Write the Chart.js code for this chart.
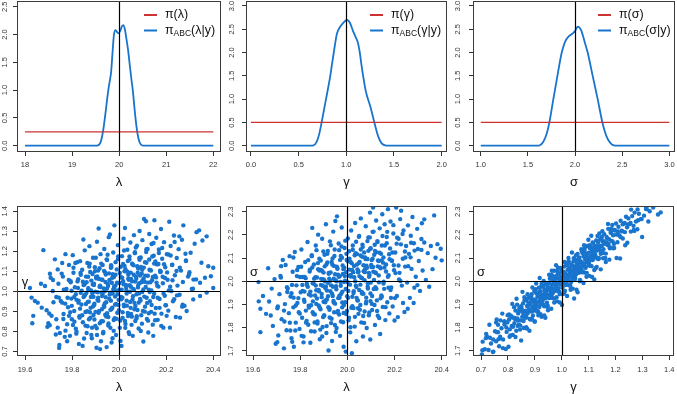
<!DOCTYPE html>
<html>
<head>
<meta charset="utf-8">
<script src="https://cdn.jsdelivr.net/npm/chart.js@4.4.1/dist/chart.umd.min.js"></script>
<style>
  html, body { margin: 0; padding: 0; background: #fff; overflow: hidden; width: 677px; height: 394px; }
  canvas { position: absolute; }
</style>
</head>
<body>
<canvas id="p1"></canvas><canvas id="p2"></canvas><canvas id="p3"></canvas>
<canvas id="p4"></canvas><canvas id="p5"></canvas><canvas id="p6"></canvas>
<script>
'use strict';

const blue = '#1874CD';
const red = '#CD3333';
const FONT = '"Liberation Sans", Arial, sans-serif';

// ABC posterior densities
const lambdaGrid = [18, 19.5, 19.55, 19.6, 19.63, 19.66, 19.7, 19.74, 19.77, 19.8, 19.83, 19.86, 19.89, 19.925, 19.96, 19.99, 20.03, 20.06, 20.09, 20.12, 20.15, 20.19, 20.23, 20.26, 20.29, 20.33, 20.36, 20.39, 20.43, 20.47, 20.52, 22];
const lambdaDensity = [0, 0, 0.005, 0.05, 0.14, 0.27, 0.52, 0.8, 1.0, 1.16, 1.33, 1.68, 2.0, 2.08, 2.04, 2.02, 2.08, 2.15, 2.17, 2.1, 1.95, 1.72, 1.42, 1.2, 1.0, 0.64, 0.4, 0.22, 0.07, 0.015, 0, 0];
const gammaGrid = [0, 0.63, 0.655, 0.69, 0.717, 0.741, 0.765, 0.787, 0.81, 0.832, 0.85, 0.867, 0.885, 0.902, 0.934, 0.97, 1.007, 1.04, 1.073, 1.1, 1.119, 1.143, 1.16, 1.178, 1.195, 1.213, 1.252, 1.294, 1.336, 1.371, 1.41, 1.44, 2];
const gammaDensity = [0, 0, 0.005, 0.086, 0.26, 0.5, 0.76, 1.0, 1.25, 1.5, 1.75, 1.98, 2.22, 2.41, 2.55, 2.64, 2.7, 2.63, 2.45, 2.32, 2.23, 1.98, 1.72, 1.48, 1.27, 1.1, 0.84, 0.5, 0.19, 0.05, 0.005, 0, 0];
const sigmaGrid = [1, 1.6, 1.622, 1.664, 1.7, 1.728, 1.77, 1.813, 1.859, 1.894, 1.929, 1.975, 2.0, 2.028, 2.064, 2.106, 2.134, 2.187, 2.24, 2.29, 2.336, 2.378, 2.413, 2.44, 3];
const sigmaDensity = [0, 0, 0.005, 0.086, 0.26, 0.5, 1.0, 1.5, 2.0, 2.23, 2.34, 2.41, 2.46, 2.555, 2.48, 2.2, 2.0, 1.5, 1.0, 0.5, 0.19, 0.05, 0.005, 0, 0];

// uniform priors: [from, to, height]
const lambdaPrior = [18, 22, 0.25];
const gammaPrior = [0, 2, 0.5];
const sigmaPrior = [1, 3, 0.5];

// true parameter values
const trueLambda = 20, trueGamma = 1, trueSigma = 2;

// tick labels
const lambdaTicksTop = ['18', '19', '20', '21', '22'];
const gammaTicksTop = ['0.0', '0.5', '1.0', '1.5', '2.0'];
const sigmaTicksTop = ['1.0', '1.5', '2.0', '2.5', '3.0'];
const densTicks25 = ['0.0', '0.5', '1.0', '1.5', '2.0', '2.5'];
const densTicks30 = ['0.0', '0.5', '1.0', '1.5', '2.0', '2.5', '3.0'];
const lambdaTicksBot = ['19.6', '19.8', '20.0', '20.2', '20.4'];
const gammaTicksBot = ['0.7', '0.8', '0.9', '1.0', '1.1', '1.2', '1.3', '1.4'];
const sigmaTicksBot = ['1.7', '1.8', '1.9', '2.0', '2.1', '2.2', '2.3'];

// legend texts: [main, subscript, rest]
const lambdaLegend = [['π', '', '(λ)'], ['π', 'ABC', '(λ|y)']];
const gammaLegend = [['π', '', '(γ)'], ['π', 'ABC', '(γ|y)']];
const sigmaLegend = [['π', '', '(σ)'], ['π', 'ABC', '(σ|y)']];

// accepted draws (lambda, gamma)
const lgPairs = [
  [19.621,1.017],[19.628,0.969],[19.635,0.878],[19.631,0.841],[19.642,0.952],
  [19.654,0.944],[19.671,0.919],[19.668,1.038],[19.678,1.206],[19.685,1.027],[19.692,0.906],[19.699,0.841],[19.695,0.823],
  [19.706,1.088],[19.709,1.068],[19.713,0.878],[19.727,1.160],[19.739,1.110],[19.742,1.038],[19.746,0.733],[19.739,0.819],[19.721,0.946],[19.733,0.861],[19.748,0.792],
  [19.752,0.952],[19.758,1.142],[19.761,1.074],[19.764,0.887],[19.769,0.773],[19.772,1.186],[19.776,1.012],[19.779,0.836],[19.783,0.921],[19.787,1.132],[19.791,0.778],[19.794,1.046],[19.797,0.964],[19.799,0.861],
  [19.803,1.181],[19.806,1.093],[19.809,0.902],[19.812,1.021],[19.816,0.814],[19.819,0.958],[19.822,1.146],[19.826,1.061],[19.829,0.738],[19.831,0.876],[19.834,1.151],[19.837,0.993],[19.840,0.935],[19.843,1.108],[19.846,0.846],[19.848,1.259],[19.849,1.032],
  [19.852,0.981],[19.854,1.205],[19.857,0.897],[19.859,1.074],[19.862,0.792],[19.865,1.142],[19.867,0.948],[19.869,1.016],[19.872,0.861],[19.874,1.226],[19.877,1.097],[19.879,0.918],[19.882,1.054],[19.884,0.766],[19.886,0.991],[19.889,1.168],[19.891,0.882],[19.893,1.039],[19.895,0.939],[19.897,1.121],[19.899,0.828],
  [19.902,1.072],[19.904,0.719],[19.906,1.248],[19.908,0.958],[19.911,1.104],[19.913,1.314],[19.915,0.903],[19.917,1.023],[19.919,0.712],[19.921,1.186],[19.924,0.851],[19.926,1.059],[19.928,0.977],[19.930,1.132],[19.932,0.791],[19.935,0.928],[19.937,1.212],[19.939,1.001],[19.941,0.884],[19.943,1.084],[19.945,0.946],[19.947,0.722],[19.949,1.157],
  [19.952,1.037],[19.954,0.872],[19.956,1.271],[19.958,0.963],[19.961,1.284],[19.963,0.818],[19.965,1.118],[19.967,0.911],[19.968,0.745],[19.971,1.068],[19.973,0.989],[19.975,1.194],[19.977,0.857],[19.979,1.026],[19.980,1.330],[19.983,0.934],[19.985,1.146],[19.987,0.782],[19.989,1.004],[19.992,0.893],[19.995,1.231],[19.998,0.958],
  [20.003,1.092],[20.006,0.753],[20.008,0.972],[20.010,0.728],[20.012,1.176],[20.015,0.868],[20.017,1.051],[20.019,1.263],[20.021,0.926],[20.023,1.127],[20.025,1.317],[20.027,0.837],[20.030,1.018],[20.032,0.954],[20.035,1.208],[20.037,0.892],[20.039,1.083],[20.041,0.796],[20.044,1.159],[20.046,0.998],[20.048,1.244],[20.049,0.918],
  [20.051,1.062],[20.054,0.874],[20.056,1.137],[20.058,0.778],[20.060,1.012],[20.063,1.281],[20.065,0.943],[20.067,1.191],[20.069,0.852],[20.072,1.073],[20.074,0.986],[20.076,1.228],[20.078,0.907],[20.081,1.114],[20.083,0.815],[20.085,1.041],[20.087,1.302],[20.089,0.962],[20.092,1.169],[20.094,0.881],[20.096,1.089],[20.098,0.997],[20.099,1.256],
  [20.103,0.750],[20.106,1.362],[20.108,1.048],[20.110,0.924],[20.114,1.350],[20.116,1.143],[20.118,0.862],[20.121,1.212],[20.124,0.795],[20.126,1.009],[20.128,1.287],[20.131,0.951],[20.133,1.106],[20.136,0.898],[20.138,1.237],[20.140,1.056],[20.143,0.834],[20.145,0.778],[20.147,1.178],[20.149,0.988],[20.150,1.355],
  [20.153,1.078],[20.156,0.917],[20.158,1.268],[20.161,1.135],[20.164,0.858],[20.167,1.024],[20.169,1.209],[20.172,0.962],[20.175,1.097],[20.178,1.312],[20.180,0.889],[20.183,1.163],[20.186,1.041],[20.188,0.819],[20.191,1.246],[20.194,0.978],[20.196,1.121],[20.199,0.931],
  [20.203,1.186],[20.206,1.058],[20.209,0.904],[20.213,1.348],[20.216,0.819],[20.219,1.227],[20.222,1.002],[20.226,1.133],[20.229,0.951],[20.233,1.279],[20.237,1.081],[20.241,0.872],[20.245,1.167],[20.248,1.029],
  [20.253,1.211],[20.257,0.983],[20.259,0.869],[20.263,1.104],[20.267,1.258],[20.271,1.047],[20.273,1.330],[20.278,0.928],[20.284,1.152],[20.287,0.902],[20.293,1.074],
  [20.304,1.193],[20.309,1.012],[20.315,0.960],[20.321,1.238],[20.327,1.060],[20.329,1.296],[20.340,1.305],[20.344,0.977],[20.344,1.043],[20.350,1.143],
  [20.354,1.254],[20.365,1.068],[20.372,1.275],[20.372,0.994],[20.379,1.126],[20.390,1.076],[20.400,1.017],[20.400,1.118],
  [19.703,0.890],[19.718,1.002],[19.731,0.785],[19.744,0.969],[19.756,1.089],[19.763,0.862],[19.771,0.939],[19.779,0.751],[19.786,1.057],[19.792,0.896],
  [19.798,1.003],[19.804,0.832],[19.809,0.972],[19.814,1.142],[19.818,0.789],[19.823,1.050],[19.827,0.944],[19.832,0.869],[19.836,1.092],[19.841,1.004],
  [19.845,0.728],[19.849,0.972],[19.853,1.035],[19.857,0.829],[19.861,0.992],[19.864,0.901],[19.868,1.073],[19.871,0.949],[19.875,1.139],[19.878,0.869],
  [19.881,1.005],[19.885,0.819],[19.888,1.035],[19.891,0.973],[19.894,0.932],[19.897,1.101],[19.900,0.898],[19.903,1.065],[19.906,0.782],[19.909,0.996],
  [19.912,0.953],[19.915,1.062],[19.918,0.841],[19.921,1.022],[19.924,1.139],[19.927,0.911],[19.930,0.987],[19.933,0.797],[19.936,1.102],[19.939,0.940],
  [19.942,1.047],[19.945,0.875],[19.948,1.013],[19.951,1.183],[19.954,0.830],[19.957,1.090],[19.960,0.984],[19.963,0.908],[19.966,1.131],[19.969,1.043],
  [19.972,0.766],[19.975,1.010],[19.978,1.072],[19.981,0.866],[19.984,1.029],[19.987,0.938],[19.990,1.110],[19.993,0.986],[19.996,1.175],[19.999,0.906],
  [20.002,1.042],[20.005,0.855],[20.008,1.071],[20.011,1.009],[20.014,0.968],[20.017,1.137],[20.020,0.934],[20.023,1.101],[20.026,0.818],[20.029,1.032],
  [20.032,0.989],[20.035,1.098],[20.038,0.877],[20.041,1.058],[20.044,1.175],[20.047,0.947],[20.050,1.023],[20.053,0.833],[20.056,1.138],[20.059,0.976],
  [20.062,1.083],[20.065,0.911],[20.068,1.049],[20.071,1.219],[20.074,0.866],[20.077,1.126],[20.080,1.020],[20.083,0.944],[20.086,1.167],[20.089,1.079],
  [20.092,0.802],[20.095,1.046],[20.098,1.108],[20.101,0.902],[20.104,1.065],[20.107,0.974],[20.110,1.146],[20.113,1.022],[20.116,1.211],[20.119,0.942],
  [20.122,1.078],[20.126,0.891],[20.129,1.108],[20.133,1.046],[20.137,1.005],[20.141,1.174],[20.145,0.972],[20.149,1.139],[20.153,0.856],[20.157,1.070],
  [20.162,1.028],[20.167,1.137],[20.172,0.918],[20.177,1.099],[20.183,1.217],[20.189,0.990],[20.195,1.067],[20.202,0.878],[20.209,1.184],[20.217,1.023],
  [20.225,1.132],[20.234,0.961],[20.244,1.102],[20.256,1.275],[20.268,0.924],[20.282,1.188],[20.297,1.085],[20.314,1.013],
  [19.705,0.831],[19.719,1.057],[19.733,0.972],[19.745,0.718],[19.758,0.944],[19.765,1.009],[19.772,0.804],[19.781,0.968],[19.787,0.878],[19.794,1.051],
  [19.799,0.928],[19.806,1.118],[19.810,0.849],[19.816,0.986],[19.819,0.799],[19.825,1.017],[19.828,0.954],[19.834,0.914],[19.837,1.083],[19.843,0.881],
  [19.846,1.048],[19.851,0.765],[19.854,0.979],[19.859,0.937],[19.862,1.046],[19.866,0.826],[19.869,1.007],[19.873,1.124],[19.876,0.896],[19.880,0.972],
  [19.882,0.782],[19.887,1.087],[19.889,0.925],[19.893,1.032],[19.895,0.860],[19.899,0.999],[19.901,1.168],[19.905,0.816],[19.907,1.075],[19.911,0.969],
  [19.913,0.893],[19.917,1.116],[19.919,1.028],[19.923,0.751],[19.925,0.995],[19.929,1.058],[19.931,0.851],[19.935,1.015],[19.937,0.923],[19.941,1.095],
  [19.943,0.971],[19.947,1.160],[19.949,0.891],[19.953,1.027],[19.955,0.840],[19.959,1.057],[19.961,0.994],[19.965,0.954],[19.967,1.122],[19.971,0.919],
  [19.973,1.086],[19.977,0.803],[19.979,1.017],[19.983,0.974],[19.985,1.083],[19.989,0.863],[19.991,1.043],[19.995,1.161],[19.997,0.932],[20.001,1.008],
  [20.003,0.818],[20.007,1.123],[20.009,0.961],[20.013,1.068],[20.015,0.896],[20.019,1.035],[20.021,1.204],[20.025,0.852],[20.027,1.111],[20.031,1.005],
  [20.033,0.929],[20.037,1.152],[20.039,1.064],[20.043,0.787],[20.045,1.031],[20.049,1.094],[20.051,0.887],[20.055,1.051],[20.057,0.959],[20.061,1.131],
  [20.063,1.007],[20.067,1.196],[20.069,0.927],[20.073,1.063],[20.075,0.876],[20.079,1.093],[20.081,1.030],[20.085,0.990],[20.087,1.158],[20.091,0.955],
  [20.093,1.122],[20.097,0.839],[20.099,1.053],[20.103,1.010],[20.105,1.119],[20.109,0.899],[20.111,1.079],[20.115,1.197],[20.117,0.968],[20.121,1.044],
  [20.123,0.854],[20.128,1.159],[20.130,0.997],[20.135,1.105],[20.138,0.932],[20.143,1.072],[20.146,1.242],[20.151,0.889],[20.154,1.149],[20.159,1.044],
  [20.164,0.968],[20.169,1.192],[20.174,1.104],[20.179,0.828],[20.185,1.073],[20.191,1.136],[20.197,0.931],[20.204,1.095],[20.211,1.005],[20.219,1.179],
  [20.227,1.056],[20.236,1.247],[20.246,0.980],[20.258,1.118],[20.270,0.934],[20.284,1.154],[20.299,1.096],[20.316,1.059]
];

// accepted draws (lambda, sigma)
const lsPairs = [
  [19.623,1.996],[19.624,1.913],[19.631,1.881],[19.631,1.780],[19.642,1.936],
  [19.655,1.859],[19.664,2.056],[19.668,1.912],[19.675,1.852],[19.679,1.968],[19.684,1.807],[19.691,2.009],[19.696,1.730],
  [19.703,1.883],[19.707,1.766],[19.712,1.944],[19.716,2.023],[19.721,1.836],[19.726,2.092],[19.731,1.710],[19.735,1.901],[19.738,2.070],[19.742,1.788],[19.747,1.968],
  [19.752,1.862],[19.755,2.108],[19.759,1.934],[19.763,1.754],[19.766,1.738],[19.768,2.041],[19.771,1.887],[19.773,1.717],[19.777,2.126],[19.781,1.821],[19.784,1.982],[19.788,1.906],[19.792,2.061],[19.797,1.794],
  [19.802,1.952],[19.805,2.137],[19.808,1.842],[19.811,2.018],[19.814,1.761],[19.818,1.911],[19.821,2.083],[19.824,1.873],[19.828,1.989],[19.831,2.169],[19.834,1.812],[19.837,1.943],[19.840,2.042],[19.843,1.734],[19.846,1.896],[19.849,2.112],[19.851,2.230],
  [19.853,1.991],[19.856,1.858],[19.858,2.072],[19.861,1.783],[19.863,1.938],[19.866,2.154],[19.868,1.902],[19.871,2.016],[19.873,1.826],[19.876,2.201],[19.878,1.962],[19.881,2.097],[19.883,1.749],[19.886,1.879],[19.888,2.049],[19.891,1.931],[19.893,2.183],[19.895,1.802],[19.897,2.006],[19.899,1.911],[19.898,2.128],
  [19.902,1.852],[19.904,2.064],[19.906,1.971],[19.909,2.246],[19.911,1.776],[19.913,1.921],[19.915,2.118],[19.918,1.993],[19.920,1.701],[19.921,2.036],[19.924,1.883],[19.926,2.172],[19.928,1.957],[19.931,1.819],[19.933,2.083],[19.935,1.742],[19.938,1.936],[19.940,2.214],[19.942,2.011],[19.944,1.866],[19.946,2.137],[19.948,1.903],[19.949,2.260],
  [19.952,1.978],[19.954,1.798],[19.956,2.280],[19.958,2.054],[19.961,1.927],[19.963,2.163],[19.965,1.856],[19.967,2.021],[19.969,1.764],[19.972,2.109],[19.974,1.946],[19.976,2.232],[19.978,1.887],[19.980,2.068],[19.982,1.823],[19.984,1.717],[19.986,1.996],[19.988,2.143],[19.991,1.909],[19.993,1.696],[19.995,2.039],[19.998,1.871],
  [20.002,2.184],[20.004,1.958],[20.007,1.842],[20.009,2.097],[20.012,1.779],[20.014,2.027],[20.016,2.219],[20.019,1.689],[20.021,1.933],[20.023,2.136],[20.026,1.884],[20.028,2.066],[20.031,1.804],[20.033,2.251],[20.036,1.981],[20.038,1.741],[20.041,2.117],[20.043,1.917],[20.045,2.039],[20.047,1.859],[20.049,2.192],[20.050,1.962],
  [20.052,2.083],[20.055,1.897],[20.057,2.271],[20.059,1.822],[20.062,2.013],[20.064,2.158],[20.066,1.761],[20.068,1.946],[20.071,2.124],[20.073,1.869],[20.075,2.052],[20.078,2.237],[20.080,1.929],[20.082,1.798],[20.085,2.096],[20.087,1.991],[20.089,2.189],[20.091,1.853],[20.094,2.027],[20.096,2.296],[20.098,1.914],[20.099,2.142],[20.097,1.748],
  [20.102,2.061],[20.105,1.876],[20.107,2.213],[20.109,2.318],[20.112,1.966],[20.114,2.114],[20.117,1.811],[20.119,2.038],[20.122,2.262],[20.125,1.917],[20.127,2.173],[20.129,1.851],[20.132,2.087],[20.134,1.995],[20.137,2.228],[20.139,1.772],[20.141,2.056],[20.144,1.938],[20.146,2.154],[20.148,2.289],[20.150,1.889],
  [20.153,2.102],[20.156,1.967],[20.158,2.246],[20.161,1.832],[20.164,2.072],[20.167,2.191],[20.169,1.909],[20.172,2.311],[20.175,2.026],[20.178,1.861],[20.181,2.141],[20.183,2.258],[20.186,1.973],[20.189,2.088],[20.192,1.891],[20.195,2.206],[20.198,2.047],[20.200,1.830],
  [20.203,2.124],[20.207,2.318],[20.210,1.936],[20.214,1.845],[20.217,2.183],[20.221,2.036],[20.224,2.268],[20.228,2.304],[20.231,1.981],[20.235,2.097],[20.238,2.219],[20.242,1.867],[20.245,2.063],[20.249,2.152],
  [20.253,1.994],[20.257,2.241],[20.261,2.118],[20.265,1.928],[20.269,2.196],[20.272,2.053],[20.276,2.277],[20.281,1.906],[20.285,2.132],[20.290,2.019],[20.296,2.226],
  [20.303,2.087],[20.308,1.958],[20.314,2.182],[20.319,2.046],[20.326,2.267],[20.326,2.167],[20.333,2.005],[20.341,2.121],[20.347,1.976],
  [20.354,2.152],[20.361,2.052],[20.368,2.284],[20.374,2.101],[20.382,2.160],[20.396,2.140],[20.400,2.090],
  [19.703,1.737],[19.718,2.016],[19.731,1.873],[19.744,1.974],[19.756,1.821],[19.763,1.948],[19.771,2.102],[19.779,1.787],[19.786,2.022],[19.792,1.927],
  [19.798,1.860],[19.804,2.062],[19.809,1.984],[19.814,1.736],[19.818,1.955],[19.823,2.013],[19.827,1.828],[19.832,1.976],[19.836,1.894],[19.841,2.050],
  [19.845,1.938],[19.849,2.108],[19.853,1.866],[19.857,1.990],[19.861,1.822],[19.864,2.017],[19.868,1.961],[19.871,1.925],[19.875,2.078],[19.878,1.895],
  [19.881,2.046],[19.885,1.791],[19.888,1.984],[19.891,1.945],[19.894,2.043],[19.897,1.845],[19.900,2.008],[19.903,2.114],[19.906,1.909],[19.909,1.977],
  [19.912,1.806],[19.915,2.081],[19.918,1.935],[19.921,2.032],[19.924,1.877],[19.927,2.002],[19.930,2.155],[19.933,1.838],[19.936,2.072],[19.939,1.976],
  [19.942,1.908],[19.945,2.109],[19.948,2.030],[19.951,1.781],[19.954,2.000],[19.957,2.057],[19.960,1.872],[19.963,2.019],[19.966,1.937],[19.969,2.092],
  [19.972,1.980],[19.975,2.150],[19.978,1.908],[19.981,2.031],[19.984,1.863],[19.987,2.058],[19.990,2.002],[19.993,1.966],[19.996,2.118],[19.999,1.935],
  [20.002,2.086],[20.005,1.831],[20.008,2.024],[20.011,1.985],[20.014,2.083],[20.017,1.885],[20.020,2.048],[20.023,2.154],[20.026,1.949],[20.029,2.017],
  [20.032,1.846],[20.035,2.121],[20.038,1.975],[20.041,2.072],[20.044,1.917],[20.047,2.042],[20.050,2.195],[20.053,1.877],[20.056,2.111],[20.059,2.015],
  [20.062,1.947],[20.065,2.148],[20.068,2.069],[20.071,1.820],[20.074,2.039],[20.077,2.096],[20.080,1.911],[20.083,2.058],[20.086,1.976],[20.089,2.131],
  [20.092,2.019],[20.095,2.189],[20.098,1.947],[20.101,2.070],[20.104,1.902],[20.107,2.097],[20.110,2.041],[20.113,2.005],[20.116,2.157],[20.119,1.974],
  [20.122,2.125],[20.126,1.871],[20.129,2.064],[20.133,2.025],[20.137,2.123],[20.141,1.926],[20.145,2.089],[20.149,2.195],[20.153,1.990],[20.157,2.059],
  [20.162,1.888],[20.167,2.164],[20.172,2.019],[20.177,2.116],[20.183,1.962],[20.189,2.088],[20.195,2.242],[20.202,1.927],[20.209,2.162],[20.217,2.068],
  [20.225,2.001],[20.234,2.204],[20.244,2.128],[20.256,1.881],[20.268,2.103],[20.282,2.164],[20.297,1.983],[20.314,2.135],
  [19.705,1.891],[19.719,2.065],[19.733,1.826],[19.745,1.953],[19.758,1.787],[19.765,1.984],[19.772,1.929],[19.781,1.895],[19.787,2.048],[19.794,1.866],
  [19.799,2.018],[19.806,1.764],[19.810,1.958],[19.816,1.920],[19.819,2.018],[19.825,1.821],[19.828,1.984],[19.834,2.091],[19.837,1.886],[19.843,1.955],
  [19.846,1.784],[19.851,2.059],[19.854,1.913],[19.859,2.011],[19.862,1.856],[19.866,1.981],[19.869,2.134],[19.873,1.817],[19.876,2.052],[19.880,1.956],
  [19.882,1.888],[19.887,2.089],[19.889,2.010],[19.893,1.761],[19.895,1.980],[19.899,2.037],[19.901,1.852],[19.905,1.999],[19.907,1.917],[19.911,2.072],
  [19.913,1.960],[19.917,2.130],[19.919,1.888],[19.923,2.011],[19.925,1.843],[19.929,2.038],[19.931,1.982],[19.935,1.946],[19.937,2.098],[19.941,1.915],
  [19.943,2.066],[19.947,1.811],[19.949,2.004],[19.953,1.965],[19.955,2.063],[19.959,1.865],[19.961,2.028],[19.965,2.134],[19.967,1.929],[19.971,1.997],
  [19.973,1.826],[19.977,2.101],[19.979,1.955],[19.983,2.052],[19.985,1.897],[19.989,2.022],[19.991,2.175],[19.995,1.858],[19.997,2.092],[20.001,1.996],
  [20.003,1.928],[20.007,2.129],[20.009,2.050],[20.013,1.801],[20.015,2.020],[20.019,2.077],[20.021,1.892],[20.025,2.039],[20.027,1.957],[20.031,2.112],
  [20.033,2.000],[20.037,2.170],[20.039,1.928],[20.043,2.051],[20.045,1.883],[20.049,2.078],[20.051,2.022],[20.055,1.985],[20.057,2.137],[20.061,1.954],
  [20.063,2.105],[20.067,1.850],[20.069,2.043],[20.073,2.004],[20.075,2.102],[20.079,1.904],[20.081,2.067],[20.085,2.173],[20.087,1.968],[20.091,2.036],
  [20.093,1.865],[20.097,2.140],[20.099,1.994],[20.103,2.091],[20.105,1.936],[20.109,2.061],[20.111,2.214],[20.115,1.897],[20.117,2.131],[20.121,2.035],
  [20.123,1.967],[20.128,2.169],[20.130,2.090],[20.135,1.841],[20.138,2.060],[20.143,2.118],[20.146,1.933],[20.151,2.080],[20.154,1.998],[20.159,2.154],
  [20.164,2.042],[20.169,2.213],[20.174,1.972],[20.179,2.095],[20.185,1.928],[20.191,2.124],[20.197,2.069],[20.204,2.035],[20.211,2.188],[20.219,2.007],
  [20.227,2.159],[20.236,1.906],[20.246,2.102],[20.258,2.065],[20.270,2.166],[20.284,1.972],[20.299,2.139],[20.316,2.250]
];

// accepted draws (gamma, sigma)
const gsPairs = [
  [0.706,1.739],[0.714,1.706],[0.722,1.761],[0.728,1.703],[0.737,1.731],[0.746,1.696],
  [0.752,1.784],[0.756,1.741],[0.759,1.780],[0.763,1.812],[0.767,1.719],[0.771,1.760],[0.776,1.797],[0.782,1.748],[0.788,1.826],[0.795,1.781],
  [0.802,1.717],[0.804,1.834],[0.807,1.792],[0.811,1.851],[0.814,1.807],[0.818,1.768],[0.821,1.842],[0.824,1.819],[0.828,1.873],[0.831,1.786],[0.835,1.839],[0.838,1.861],[0.841,1.812],[0.844,1.885],[0.847,1.831],[0.849,1.744],
  [0.851,1.882],[0.853,1.846],[0.856,1.904],[0.858,1.828],[0.861,1.869],[0.863,1.917],[0.866,1.853],[0.868,1.801],[0.871,1.893],[0.873,1.861],[0.876,1.928],[0.878,1.874],[0.881,1.837],[0.883,1.902],[0.886,1.869],[0.888,1.944],[0.891,1.886],[0.893,1.852],[0.895,1.919],[0.897,1.893],[0.899,1.826],[0.899,1.961],
  [0.901,1.921],[0.903,1.884],[0.905,1.949],[0.907,1.902],[0.909,1.868],[0.911,1.935],[0.913,1.913],[0.915,1.972],[0.917,1.889],[0.919,1.928],[0.921,1.957],[0.923,1.901],[0.925,1.846],[0.927,1.941],[0.929,1.917],[0.931,1.981],[0.933,1.934],[0.935,1.892],[0.937,1.958],[0.939,1.926],[0.941,1.989],[0.943,1.943],[0.945,1.907],[0.946,1.966],[0.948,1.941],[0.949,1.874],
  [0.951,1.962],[0.953,1.927],[0.954,1.991],[0.956,2.012],[0.958,1.946],[0.960,1.973],[0.962,1.938],[0.963,2.027],[0.965,1.985],[0.967,1.951],[0.969,2.004],[0.971,1.969],[0.972,2.045],[0.974,1.996],[0.976,1.959],[0.978,2.021],[0.979,1.983],[0.981,1.931],[0.983,2.012],[0.985,1.992],[0.986,2.058],[0.988,1.969],[0.990,2.031],[0.992,1.998],[0.993,1.944],[0.995,2.017],[0.997,1.985],[0.999,2.043],
  [1.001,2.008],[1.003,1.972],[1.005,2.037],[1.006,1.991],[1.008,2.063],[1.010,2.019],[1.012,1.958],[1.013,2.034],[1.015,2.002],[1.017,2.071],[1.019,2.026],[1.020,1.987],[1.022,2.049],[1.024,2.014],[1.026,2.086],[1.028,2.032],[1.046,1.925],[1.031,2.058],[1.033,2.021],[1.035,1.996],[1.036,2.073],[1.038,2.041],[1.040,2.009],[1.042,2.066],[1.044,2.035],[1.046,2.098],[1.047,2.052],[1.049,2.016],
  [1.051,2.061],[1.053,2.029],[1.055,2.092],[1.057,2.047],[1.059,2.118],[1.061,2.071],[1.063,2.036],[1.065,2.103],[1.067,2.062],[1.069,2.002],[1.071,2.085],[1.073,2.053],[1.075,2.129],[1.077,2.078],[1.079,2.041],[1.081,2.107],[1.083,2.074],[1.085,2.141],[1.087,2.093],[1.089,2.058],[1.091,2.117],[1.093,2.083],[1.095,2.152],[1.097,2.101],[1.099,2.069],
  [1.101,2.123],[1.103,2.087],[1.106,2.147],[1.108,2.108],[1.110,2.196],[1.112,2.129],[1.115,2.091],[1.117,2.162],[1.119,2.118],[1.121,2.048],[1.124,2.143],[1.126,2.109],[1.128,2.176],[1.131,2.132],[1.133,2.097],[1.135,2.168],[1.138,2.141],[1.140,2.206],[1.142,2.153],[1.145,2.118],[1.147,2.187],[1.149,2.152],
  [1.152,2.171],[1.155,2.138],[1.158,2.203],[1.161,2.162],[1.164,2.119],[1.167,2.191],[1.170,2.156],[1.173,2.226],[1.176,2.181],[1.179,2.142],[1.182,2.209],[1.185,2.174],[1.188,2.243],[1.191,2.198],[1.194,2.161],[1.197,2.219],
  [1.203,2.201],[1.207,2.168],[1.211,2.235],[1.215,2.196],[1.219,2.261],[1.223,2.218],[1.227,2.184],[1.231,2.249],[1.235,2.212],[1.239,2.278],[1.243,2.233],[1.248,2.271],
  [1.253,2.247],[1.257,2.214],[1.262,2.281],[1.267,2.239],[1.271,2.296],[1.276,2.258],[1.281,2.224],[1.287,2.291],[1.294,2.268],
  [1.306,2.283],[1.314,2.311],[1.322,2.258],[1.327,2.302],[1.340,2.318],[1.358,2.288],[1.368,2.297],
  [0.703,1.684],[0.718,1.754],[0.731,1.812],[0.744,1.694],[0.756,1.822],[0.763,1.780],[0.771,1.753],[0.779,1.860],[0.786,1.826],[0.792,1.707],
  [0.798,1.822],[0.804,1.856],[0.809,1.766],[0.814,1.844],[0.818,1.807],[0.823,1.888],[0.827,1.836],[0.832,1.924],[0.836,1.807],[0.841,1.872],
  [0.845,1.791],[0.849,1.892],[0.853,1.868],[0.857,1.852],[0.861,1.931],[0.864,1.843],[0.868,1.921],[0.871,1.795],[0.875,1.895],[0.878,1.879],
  [0.881,1.930],[0.885,1.834],[0.888,1.918],[0.891,1.973],[0.894,1.872],[0.897,1.909],[0.900,1.826],[0.903,1.965],[0.906,1.895],[0.909,1.945],
  [0.912,1.870],[0.915,1.935],[0.918,2.014],[0.921,1.857],[0.924,1.976],[0.927,1.931],[0.930,1.900],[0.933,2.001],[0.936,1.964],[0.939,1.842],
  [0.942,1.955],[0.945,1.985],[0.948,1.894],[0.951,1.970],[0.954,1.932],[0.957,2.011],[0.960,1.958],[0.963,2.045],[0.966,1.927],[0.969,1.989],
  [0.972,1.908],[0.975,2.008],[0.978,1.983],[0.981,1.967],[0.984,2.044],[0.987,1.956],[0.990,2.033],[0.993,1.908],[0.996,2.006],[0.999,1.990],
  [1.002,2.041],[1.005,1.945],[1.008,2.028],[1.011,2.083],[1.014,1.983],[1.017,2.020],[1.020,1.936],[1.023,2.075],[1.026,2.005],[1.029,2.056],
  [1.032,1.980],[1.035,2.045],[1.038,2.124],[1.041,1.968],[1.044,2.086],[1.047,2.041],[1.050,2.010],[1.053,2.112],[1.056,2.075],[1.059,1.952],
  [1.062,2.065],[1.065,2.096],[1.068,2.005],[1.071,2.080],[1.074,2.042],[1.077,2.122],[1.080,2.069],[1.083,2.155],[1.086,2.037],[1.089,2.100],
  [1.092,2.019],[1.095,2.118],[1.098,2.093],[1.101,2.077],[1.104,2.155],[1.107,2.066],[1.110,2.143],[1.113,2.018],[1.116,2.117],[1.119,2.100],
  [1.122,2.151],[1.126,2.056],[1.129,2.140],[1.133,2.195],[1.137,2.096],[1.141,2.134],[1.145,2.051],[1.149,2.191],[1.153,2.122],[1.157,2.173],
  [1.162,2.100],[1.167,2.167],[1.172,2.247],[1.177,2.093],[1.183,2.214],[1.189,2.172],[1.195,2.143],[1.202,2.249],[1.209,2.215],[1.217,2.098],
  [1.225,2.215],[1.234,2.251],[1.244,2.166],[1.256,2.251],[1.268,2.221],[1.282,2.310],[1.297,2.268],[1.314,2.318],
  [0.705,1.702],[0.719,1.772],[0.733,1.756],[0.745,1.748],[0.758,1.835],[0.765,1.750],[0.772,1.831],[0.781,1.711],[0.787,1.813],[0.794,1.800],
  [0.799,1.853],[0.806,1.760],[0.810,1.845],[0.816,1.902],[0.819,1.803],[0.825,1.841],[0.828,1.759],[0.834,1.899],[0.837,1.830],[0.843,1.883],
  [0.846,1.808],[0.851,1.874],[0.854,1.954],[0.859,1.798],[0.862,1.918],[0.866,1.873],[0.869,1.843],[0.873,1.944],[0.876,1.908],[0.880,1.786],
  [0.882,1.899],[0.887,1.930],[0.889,1.839],[0.893,1.915],[0.895,1.876],[0.899,1.956],[0.901,1.903],[0.905,1.990],[0.907,1.872],[0.911,1.934],
  [0.913,1.853],[0.917,1.953],[0.919,1.928],[0.923,1.911],[0.925,1.989],[0.929,1.901],[0.931,1.978],[0.935,1.852],[0.937,1.951],[0.941,1.935],
  [0.943,1.986],[0.947,1.889],[0.949,1.973],[0.953,2.028],[0.955,1.928],[0.959,1.964],[0.961,1.881],[0.965,2.020],[0.967,1.950],[0.971,2.000],
  [0.973,1.925],[0.977,1.990],[0.979,2.069],[0.983,1.913],[0.985,2.031],[0.989,1.986],[0.991,1.955],[0.995,2.057],[0.997,2.019],[1.001,1.897],
  [1.003,2.010],[1.007,2.041],[1.009,1.949],[1.013,2.025],[1.015,1.987],[1.019,2.067],[1.021,2.013],[1.025,2.100],[1.027,1.982],[1.031,2.045],
  [1.033,1.963],[1.037,2.063],[1.039,2.038],[1.043,2.022],[1.045,2.099],[1.049,2.011],[1.051,2.088],[1.055,1.963],[1.057,2.062],[1.061,2.045],
  [1.063,2.096],[1.067,2.000],[1.069,2.084],[1.073,2.138],[1.075,2.038],[1.079,2.075],[1.081,1.992],[1.085,2.130],[1.087,2.060],[1.091,2.111],
  [1.093,2.036],[1.097,2.100],[1.099,2.179],[1.103,2.023],[1.105,2.142],[1.109,2.096],[1.111,2.065],[1.115,2.167],[1.117,2.130],[1.121,2.007],
  [1.123,2.120],[1.128,2.152],[1.130,2.061],[1.135,2.137],[1.138,2.100],[1.143,2.181],[1.146,2.128],[1.151,2.216],[1.154,2.099],[1.159,2.162],
  [1.164,2.083],[1.169,2.185],[1.174,2.161],[1.179,2.147],[1.185,2.227],[1.191,2.142],[1.197,2.221],[1.204,2.100],[1.211,2.202],[1.219,2.191],
  [1.227,2.246],[1.236,2.155],[1.246,2.245],[1.258,2.309],[1.270,2.217],[1.284,2.263],[1.299,2.191],[1.316,2.312]
];

// ---- drawing ----
const PT = 16, PR = 16, YW = 24;

function seg(ctx, x1, y1, x2, y2) {
  ctx.beginPath(); ctx.moveTo(x1, y1); ctx.lineTo(x2, y2); ctx.stroke();
}

// box, true-value lines, legend and corner letter (R style)
const panelDecor = {
  id: 'panelDecor',
  afterDatasetsDraw(chart, args, o) {
    const { ctx, chartArea: a, scales: { x, y } } = chart;
    ctx.save();
    ctx.strokeStyle = '#000';
    ctx.lineWidth = 1.2;
    if (o.refX !== undefined) {
      const px = Math.round(x.getPixelForValue(o.refX)) + 0.5;
      seg(ctx, px, a.top, px, a.bottom);
    }
    if (o.refY !== undefined) {
      const py = Math.round(y.getPixelForValue(o.refY)) + 0.5;
      seg(ctx, a.left, py, a.right, py);
    }
    ctx.lineWidth = 1;
    ctx.strokeStyle = '#3c3c3c';
    ctx.strokeRect(a.left + 0.5, a.top + 0.5, a.width - 1, a.height - 1);

    ctx.fillStyle = '#111';
    ctx.textBaseline = 'middle';
    if (o.legend) {
      o.legend.forEach((t, i) => {
        const ly = a.top + 14 + i * 15.5;
        ctx.strokeStyle = i === 0 ? red : blue;
        ctx.lineWidth = 2;
        seg(ctx, a.right - 77, ly, a.right - 64, ly);
        ctx.textAlign = 'left';
        ctx.font = '12.5px ' + FONT;
        let tx = a.right - 56;
        ctx.fillText(t[0], tx, ly);
        tx += ctx.measureText(t[0]).width;
        if (t[1]) {
          ctx.font = '8.5px ' + FONT;
          ctx.fillText(t[1], tx, ly + 3.5);
          tx += ctx.measureText(t[1]).width;
          ctx.font = '12.5px ' + FONT;
        }
        ctx.fillText(t[2], tx, ly);
      });
    }
    if (o.letter) {
      ctx.textAlign = 'center';
      ctx.font = '13px ' + FONT;
      ctx.fillText(o.letter, a.left + 8, y.getPixelForValue(o.refY) - 9);
    }
    ctx.restore();
  }
};

function axis(lo, hi, labels, title, tickPad, size, isX) {
  return {
    type: 'linear', min: lo, max: hi,
    afterBuildTicks: s => { s.ticks = labels.map(v => ({ value: Number(v) })); },
    afterFit: s => {
      if (isX) s.height = size; else s.width = size;
      s.paddingTop = s.paddingBottom = s.paddingLeft = s.paddingRight = 0;
    },
    grid: { drawOnChartArea: false, drawTicks: true, tickLength: 4, tickColor: '#333', tickWidth: 1 },
    border: { display: false },
    ticks: {
      autoSkip: false, padding: tickPad, color: '#333',
      font: { family: FONT, size: 7.5 },
      minRotation: isX ? 0 : 90, maxRotation: isX ? 0 : 90,
      crossAlign: isX ? 'near' : 'center',
      callback: (v, i) => labels[i]
    },
    title: { display: !!title, text: title, color: '#111', font: { family: FONT, size: 13 }, padding: 0 }
  };
}

function densitySets(grid, dens, prior) {
  return [
    { data: [{ x: prior[0], y: prior[2] }, { x: prior[1], y: prior[2] }],
      showLine: true, borderColor: red, borderWidth: 1.3, pointRadius: 0, clip: 0 },
    { data: grid.map((g, i) => ({ x: g, y: dens[i] })),
      showLine: true, borderColor: blue, borderWidth: 1.8, pointRadius: 0,
      cubicInterpolationMode: 'monotone', clip: 0 }
  ];
}

function pointSet(pairs) {
  return [{ data: pairs.map(p => ({ x: p[0], y: p[1] })),
    pointRadius: 2.2, pointBackgroundColor: blue, pointBorderWidth: 0, clip: 0 }];
}

function panel(id, box, xh, xAxis, yAxis, datasets, decor) {
  const cv = document.getElementById(id);
  cv.width = YW + (box.r - box.l) + PR;
  cv.height = PT + (box.b - box.t) + xh;
  cv.style.left = (box.l - YW) + 'px';
  cv.style.top = (box.t - PT) + 'px';
  new Chart(cv, {
    type: 'scatter',
    data: { datasets },
    options: {
      responsive: false, animation: false, devicePixelRatio: 1, events: [],
      layout: { padding: { left: 0, top: PT, right: PR, bottom: 0 } },
      plugins: { legend: { display: false }, tooltip: { enabled: false }, panelDecor: decor },
      scales: { x: xAxis, y: yAxis }
    },
    plugins: [panelDecor]
  });
}

// top row: prior vs ABC posterior
panel('p1', { l: 17, t: 1, r: 221, b: 152 }, 38,
  axis(17.83, 22.164, lambdaTicksTop, 'λ', 4.5, 38, true),
  axis(-0.113, 2.6025, densTicks25, '', 2.8, YW, false),
  densitySets(lambdaGrid, lambdaDensity, lambdaPrior),
  { refX: trueLambda, legend: lambdaLegend });

panel('p2', { l: 246, t: 1, r: 447, b: 152 }, 38,
  axis(-0.052, 2.056, gammaTicksTop, 'γ', 4.5, 38, true),
  axis(-0.135, 3.107, densTicks30, '', 4.8, YW, false),
  densitySets(gammaGrid, gammaDensity, gammaPrior),
  { refX: trueGamma, legend: gammaLegend });

panel('p3', { l: 473, t: 1, r: 675, b: 152 }, 38,
  axis(0.918, 3.06, sigmaTicksTop, 'σ', 4.5, 38, true),
  axis(-0.135, 3.107, densTicks30, '', 6.2, YW, false),
  densitySets(sigmaGrid, sigmaDensity, sigmaPrior),
  { refX: trueSigma, legend: sigmaLegend });

// bottom row: pairwise posterior draws
panel('p4', { l: 17, t: 206, r: 221, b: 356 }, 39,
  axis(19.566, 20.433, lambdaTicksBot, 'λ', 5.5, 39, true),
  axis(0.6775, 1.4265, gammaTicksBot, '', 3.1, YW, false),
  pointSet(lgPairs),
  { refX: trueLambda, refY: trueGamma, letter: 'γ' });

panel('p5', { l: 246, t: 206, r: 447, b: 356 }, 39,
  axis(19.57, 20.4225, lambdaTicksBot, 'λ', 5.5, 39, true),
  axis(1.677, 2.3246, sigmaTicksBot, '', 6.3, YW, false),
  pointSet(lsPairs),
  { refX: trueLambda, refY: trueSigma, letter: 'σ' });

panel('p6', { l: 473, t: 206, r: 674, b: 356 }, 39,
  axis(0.670, 1.4175, gammaTicksBot, 'γ', 5.5, 39, true),
  axis(1.677, 2.3246, sigmaTicksBot, '', 6.2, YW, false),
  pointSet(gsPairs),
  { refX: trueGamma, refY: trueSigma, letter: 'σ' });
</script>
</body>
</html>
